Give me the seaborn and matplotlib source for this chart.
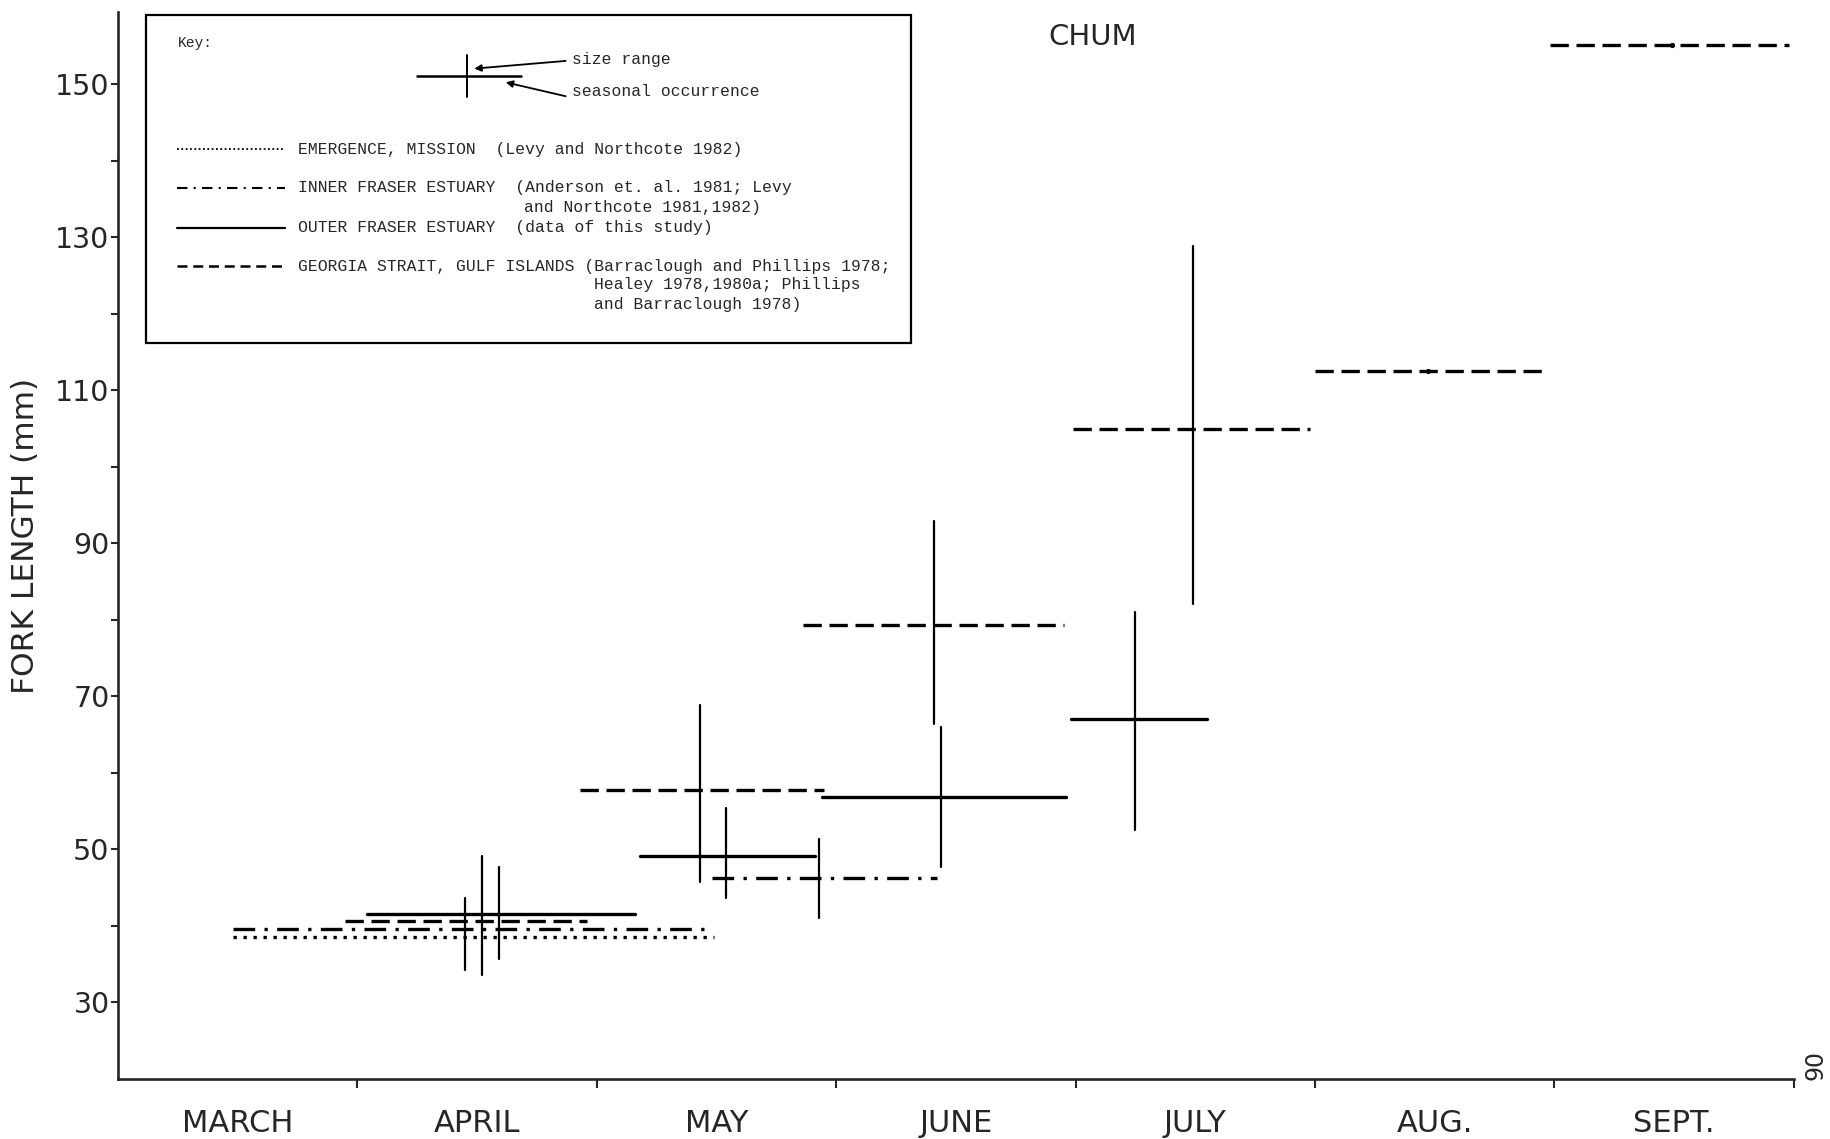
import numpy as np
import pandas as pd
import matplotlib
matplotlib.use("Agg")
import matplotlib.pyplot as plt
import seaborn as sns
from matplotlib.patches import Rectangle

# ---------------- data (x in months after 1 March, y = fork length mm) ----------------
months = ["MARCH", "APRIL", "MAY", "JUNE", "JULY", "AUG.", "SEPT."]
y_major = [30, 50, 70, 90, 110, 130, 150]
y_minor = [40, 60, 80, 100, 120, 140]

emerg_start = [0.48]
emerg_end = [2.49]
emerg_len = [38.5]

inner_start = [0.48, 2.48]
inner_end = [2.48, 3.42]
inner_len = [39.6, 46.2]
inner_rng_x = [1.59, 2.93]
inner_rng_lo = [35.7, 41.1]
inner_rng_hi = [47.7, 51.4]

outer_start = [1.04, 2.18, 2.94, 3.98]
outer_end = [2.16, 2.91, 3.96, 4.55]
outer_len = [41.6, 49.2, 56.9, 67.1]
outer_rng_x = [1.52, 2.54, 3.44, 4.25]
outer_rng_lo = [33.6, 43.6, 47.7, 52.5]
outer_rng_hi = [49.2, 55.4, 66.0, 81.0]

geo_start = [0.95, 1.93, 2.86, 3.99, 5.00, 5.98]
geo_end = [1.96, 2.95, 3.95, 4.98, 5.95, 6.98]
geo_len = [40.6, 57.7, 79.3, 104.9, 112.5, 155.1]
geo_rng_x = [1.45, 2.43, 3.41, 4.49]
geo_rng_lo = [34.3, 45.8, 66.4, 82.1]
geo_rng_hi = [43.7, 68.9, 92.9, 128.8]
geo_pt_x = [5.47, 6.49]
geo_pt_len = [112.5, 155.1]

# ---------------- tables ----------------
seg_rows = []
rng_rows = []
def add_segments(name, starts, ends, lens):
    for i, (s, e, v) in enumerate(zip(starts, ends, lens)):
        uid = f"{name}{i}"
        seg_rows.append((name, uid, s, v))
        seg_rows.append((name, uid, e, v))

def add_ranges(name, xs, los, his):
    for i, (x, lo, hi) in enumerate(zip(xs, los, his)):
        uid = f"{name}r{i}"
        rng_rows.append((name, uid, x, lo))
        rng_rows.append((name, uid, x, hi))

add_segments("emerg", emerg_start, emerg_end, emerg_len)
add_segments("inner", inner_start, inner_end, inner_len)
add_segments("outer", outer_start, outer_end, outer_len)
add_segments("geo", geo_start, geo_end, geo_len)
add_ranges("inner", inner_rng_x, inner_rng_lo, inner_rng_hi)
add_ranges("outer", outer_rng_x, outer_rng_lo, outer_rng_hi)
add_ranges("geo", geo_rng_x, geo_rng_lo, geo_rng_hi)

segs = pd.DataFrame(seg_rows, columns=["source", "unit", "x", "y"])
rngs = pd.DataFrame(rng_rows, columns=["source", "unit", "x", "y"])
pts = pd.DataFrame({"x": geo_pt_x, "y": geo_pt_len})

# ---------------- figure ----------------
sns.set_style("ticks")
plt.rcParams["font.family"] = ["DejaVu Sans"]

W, H = 1568.0, 976.0
fig = plt.figure(figsize=(18.3, 11.39), dpi=100)
ax = fig.add_axes([101 / W, 1 - 925 / H, (1537 - 101) / W, (925 - 10) / H])

dash_map = {"emerg": (1, 2), "inner": (6.5, 2.8, 1, 2.8), "outer": "", "geo": (5.5, 2.3)}
sns.lineplot(data=segs, x="x", y="y", units="unit", estimator=None, sort=False,
             style="source", dashes=dash_map, color="black", lw=2.4,
             legend=False, ax=ax)
sns.lineplot(data=rngs, x="x", y="y", units="unit", estimator=None, sort=False,
             color="black", lw=1.6, legend=False, ax=ax)
sns.scatterplot(data=pts, x="x", y="y", color="black", s=14, linewidth=0, ax=ax)

ax.set_xlim(0, 7)
ax.set_ylim(19.94, 159.45)
ax.set_xlabel("")
ax.set_ylabel("")
for s in ["top", "right"]:
    ax.spines[s].set_visible(False)
for s in ["left", "bottom"]:
    ax.spines[s].set_linewidth(1.9)

ax.set_yticks(y_major)
ax.set_yticks(y_minor, minor=True)
ax.set_yticklabels([str(v) for v in y_major], fontsize=20.5)
ax.tick_params(axis="y", which="both", direction="out", length=5, width=1.5, pad=1)

ax.set_xticks(range(1, 8))
ax.set_xticklabels([])
ax.set_xticks(np.arange(len(months)) + 0.5, minor=True)
ax.set_xticklabels(months, minor=True, fontsize=22)
ax.tick_params(axis="x", which="major", direction="out", length=6.5, width=1.5)
ax.tick_params(axis="x", which="minor", length=0, pad=21)

# ---------------- overlay (key box, labels) in reference pixel units ----------------
ov = fig.add_axes([0, 0, 1, 1], zorder=5)
ov.set_xlim(0, W)
ov.set_ylim(H, 0)
ov.axis("off")
ov.patch.set_alpha(0)

ov.text(22, 459, "FORK LENGTH (mm)", rotation=90, ha="center", va="center", fontsize=22.5)
ov.text(936, 32, "CHUM", ha="center", va="center", fontsize=21)
ov.text(1556, 913, "90", rotation=90, ha="center", va="center", fontsize=17)

ov.add_patch(Rectangle((125, 13), 656, 281, fill=False, lw=1.6, ec="black"))
mono = ["Liberation Mono", "DejaVu Sans Mono"]
ov.text(152, 37, "Key:", family=mono, fontsize=10.5, va="center")
ov.plot([357, 446], [65, 65], color="black", lw=1.8)
ov.plot([400, 400], [47, 83], color="black", lw=1.4)
ov.text(490, 51, "size range", family=mono, fontsize=11.8, va="center")
ov.text(490, 78, "seasonal occurrence", family=mono, fontsize=11.8, va="center")
ov.annotate("", xy=(404, 59), xytext=(487, 52),
            arrowprops=dict(arrowstyle="-|>", lw=1.3, color="black", mutation_scale=10))
ov.annotate("", xy=(431, 70), xytext=(487, 83),
            arrowprops=dict(arrowstyle="-|>", lw=1.3, color="black", mutation_scale=10))

ov.plot([152, 244], [128, 128], color="black", lw=1.3, dashes=(1, 1.4))
ov.plot([152, 244], [161, 161], color="black", lw=1.5, dashes=(5, 3, 1, 3))
ov.plot([152, 244], [195, 195], color="black", lw=1.6)
ov.plot([152, 244], [228, 228], color="black", lw=1.8, dashes=(4, 2.3))

fs = 11.8
ov.text(255, 128, "EMERGENCE, MISSION  (Levy and Northcote 1982)", family=mono, fontsize=fs, va="center")
ov.text(255, 161, "INNER FRASER ESTUARY  (Anderson et. al. 1981; Levy", family=mono, fontsize=fs, va="center")
ov.text(449, 178, "and Northcote 1981,1982)", family=mono, fontsize=fs, va="center")
ov.text(255, 195, "OUTER FRASER ESTUARY  (data of this study)", family=mono, fontsize=fs, va="center")
ov.text(255, 228, "GEORGIA STRAIT, GULF ISLANDS (Barraclough and Phillips 1978;", family=mono, fontsize=fs, va="center")
ov.text(509, 244, "Healey 1978,1980a; Phillips", family=mono, fontsize=fs, va="center")
ov.text(509, 261, "and Barraclough 1978)", family=mono, fontsize=fs, va="center")

fig.savefig("out.png", dpi=100)
